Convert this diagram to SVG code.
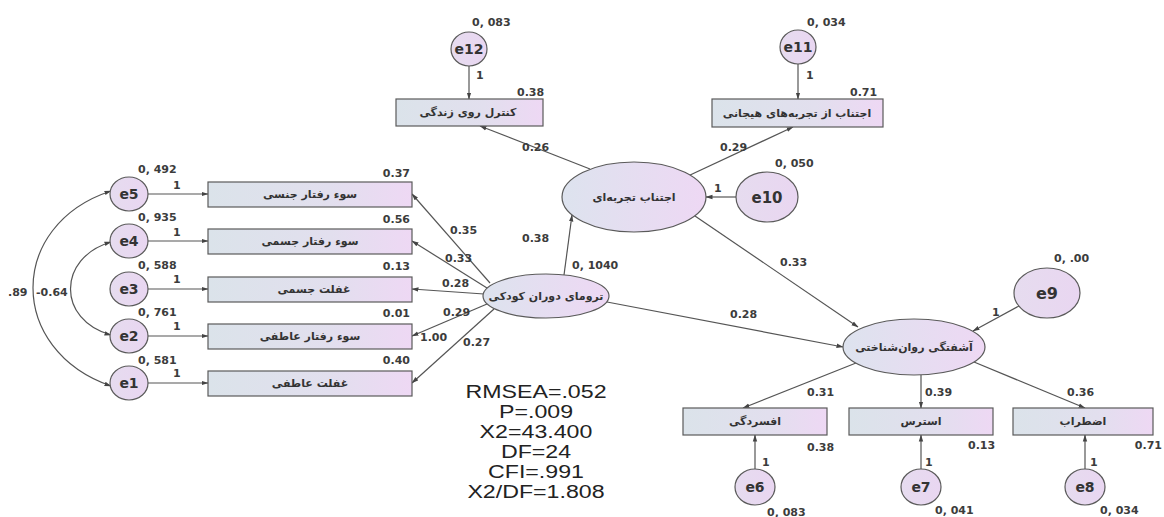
<svg xmlns="http://www.w3.org/2000/svg" width="1164" height="517" viewBox="0 0 1164 517">
<defs>
<linearGradient id="gBox" x1="0" y1="0" x2="1" y2="0">
<stop offset="0" stop-color="#dbe3ea"/><stop offset="0.6" stop-color="#e2dfee"/><stop offset="1" stop-color="#eed8f4"/>
</linearGradient>
<linearGradient id="gEll" x1="0" y1="0" x2="1" y2="0">
<stop offset="0" stop-color="#dde3ee"/><stop offset="1" stop-color="#eed8f4"/>
</linearGradient>
<linearGradient id="gErr" x1="0" y1="0" x2="1" y2="0">
<stop offset="0" stop-color="#e6dcef"/><stop offset="1" stop-color="#e9d6f1"/>
</linearGradient>
<marker id="arr" markerWidth="7" markerHeight="6" refX="6.5" refY="3" orient="auto-start-reverse" markerUnits="userSpaceOnUse">
<path d="M0,0.8 L7,3 L0,5.2 z" fill="#444"/>
</marker>
<style>
.box{fill:url(#gBox);stroke:#5a5a5a;stroke-width:1.2}
.lat{fill:url(#gEll);stroke:#5a5a5a;stroke-width:1.2}
.err{fill:url(#gErr);stroke:#5a5a5a;stroke-width:1.2}
.ln{stroke:#555;stroke-width:1.2;fill:none;marker-end:url(#arr)}
.cv{stroke:#555;stroke-width:1.2;fill:none;marker-end:url(#arr);marker-start:url(#arr)}
.lb{font-family:"DejaVu Sans",sans-serif;font-weight:bold;font-size:11px;fill:#3c3c3c}
.fa{font-family:"DejaVu Sans","Noto Sans",sans-serif;font-weight:bold;font-size:11px;fill:#333;text-anchor:middle}
.en{font-family:"DejaVu Sans",sans-serif;font-weight:bold;font-size:14px;fill:#333;text-anchor:middle}
.st{font-family:"Liberation Sans",Arial,sans-serif;font-size:19px;fill:#222;text-anchor:middle}
</style>
</defs>
<rect width="1164" height="517" fill="#fff"/>

<g id="connectors">
<line class="ln" x1="148" y1="194" x2="208" y2="194"/>
<line class="ln" x1="148" y1="241" x2="208" y2="241"/>
<line class="ln" x1="148" y1="289" x2="208" y2="289"/>
<line class="ln" x1="148" y1="336" x2="208" y2="336"/>
<line class="ln" x1="148" y1="383" x2="208" y2="383"/>
<path class="cv" d="M111 191 C 7 225, 7 350, 111 386"/>
<path class="cv" d="M111 242 C 57 258, 57 320, 111 335"/>
<line class="ln" x1="490" y1="283" x2="412" y2="194"/>
<line class="ln" x1="487" y1="288" x2="412" y2="241"/>
<line class="ln" x1="484" y1="294" x2="412" y2="289"/>
<line class="ln" x1="487" y1="304" x2="412" y2="336"/>
<line class="ln" x1="494" y1="309" x2="412" y2="383"/>
<line class="ln" x1="564" y1="275" x2="572" y2="215"/>
<line class="ln" x1="590" y1="169" x2="480" y2="126"/>
<line class="ln" x1="688" y1="176" x2="793" y2="127"/>
<line class="ln" x1="736" y1="197" x2="706" y2="197"/>
<line class="ln" x1="469" y1="66" x2="469" y2="99"/>
<line class="ln" x1="798" y1="64" x2="798" y2="99"/>
<line class="ln" x1="695" y1="216" x2="858" y2="327"/>
<line class="ln" x1="607" y1="302" x2="843" y2="347"/>
<line class="ln" x1="1019" y1="306" x2="973" y2="331"/>
<line class="ln" x1="856" y1="363" x2="743" y2="408"/>
<line class="ln" x1="921" y1="375" x2="921" y2="408"/>
<line class="ln" x1="974" y1="362" x2="1085" y2="408"/>
<line class="ln" x1="755" y1="469" x2="755" y2="435"/>
<line class="ln" x1="921" y1="469" x2="921" y2="435"/>
<line class="ln" x1="1085" y1="469" x2="1085" y2="435"/>
</g>

<g id="e5"><ellipse class="err" cx="129" cy="194" rx="19" ry="17"/><text class="en" x="129" y="199">e5</text></g>
<g id="e4"><ellipse class="err" cx="129" cy="241" rx="19" ry="17"/><text class="en" x="129" y="246">e4</text></g>
<g id="e3"><ellipse class="err" cx="129" cy="289" rx="19" ry="17"/><text class="en" x="129" y="294">e3</text></g>
<g id="e2"><ellipse class="err" cx="129" cy="336" rx="19" ry="17"/><text class="en" x="129" y="341">e2</text></g>
<g id="e1"><ellipse class="err" cx="129" cy="383" rx="19" ry="17"/><text class="en" x="129" y="388">e1</text></g>

<g id="b1"><rect class="box" x="208" y="182" width="204" height="25"/><text class="fa" x="310" y="198">سوء رفتار جنسی</text></g>
<g id="b2"><rect class="box" x="208" y="229" width="204" height="25"/><text class="fa" x="310" y="245">سوء رفتار جسمی</text></g>
<g id="b3"><rect class="box" x="208" y="277" width="204" height="25"/><text class="fa" x="314" y="293">غفلت جسمی</text></g>
<g id="b4"><rect class="box" x="208" y="324" width="204" height="25"/><text class="fa" x="310" y="340">سوء رفتار عاطفی</text></g>
<g id="b5"><rect class="box" x="208" y="371" width="204" height="25"/><text class="fa" x="310" y="387">غفلت عاطفی</text></g>

<g id="trauma"><ellipse class="lat" cx="546" cy="296" rx="63" ry="22"/><text class="fa" x="546" y="300">ترومای دوران کودکی</text></g>
<g id="avoid"><ellipse class="lat" cx="634" cy="197" rx="72" ry="35"/><text class="fa" x="634" y="201">اجتناب تجربه‌ای</text></g>
<g id="distress"><ellipse class="lat" cx="914" cy="347" rx="71" ry="28"/><text class="fa" x="914" y="351">آشفتگی روان‌شناختی</text></g>

<g id="b_control"><rect class="box" x="396" y="99" width="147" height="27"/><text class="fa" x="468" y="116">کنترل روی زندگی</text></g>
<g id="b_emo"><rect class="box" x="712" y="99" width="171" height="28"/><text class="fa" x="797" y="117">اجتناب از تجربه‌های هیجانی</text></g>
<g id="e12"><ellipse class="err" cx="469" cy="49" rx="18" ry="17"/><text class="en" x="469" y="54">e12</text></g>
<g id="e11"><ellipse class="err" cx="798" cy="47" rx="18" ry="17"/><text class="en" x="798" y="52">e11</text></g>
<g id="e10"><ellipse class="err" cx="767" cy="197" rx="31" ry="25"/><text class="en" x="767" y="203" style="font-size:15px">e10</text></g>
<g id="e9"><ellipse class="err" cx="1047" cy="293" rx="33" ry="25"/><text class="en" x="1047" y="299" style="font-size:16px">e9</text></g>

<g id="b_dep"><rect class="box" x="683" y="408" width="144" height="27"/><text class="fa" x="755" y="425">افسردگی</text></g>
<g id="b_str"><rect class="box" x="849" y="408" width="144" height="27"/><text class="fa" x="921" y="425">استرس</text></g>
<g id="b_anx"><rect class="box" x="1013" y="408" width="140" height="27"/><text class="fa" x="1083" y="425">اضطراب</text></g>
<g id="e6"><ellipse class="err" cx="755" cy="487" rx="20" ry="18"/><text class="en" x="755" y="492">e6</text></g>
<g id="e7"><ellipse class="err" cx="921" cy="487" rx="20" ry="18"/><text class="en" x="921" y="492">e7</text></g>
<g id="e8"><ellipse class="err" cx="1085" cy="487" rx="20" ry="18"/><text class="en" x="1085" y="492">e8</text></g>

<g id="labels" class="lb">
<text x="138" y="173">0, 492</text><text x="173" y="189">1</text>
<text x="138" y="221">0, 935</text><text x="173" y="236">1</text>
<text x="138" y="269">0, 588</text><text x="173" y="283">1</text>
<text x="138" y="316">0, 761</text><text x="173" y="330">1</text>
<text x="138" y="364">0, 581</text><text x="173" y="377">1</text>
<text x="8" y="296">.89</text><text x="36" y="296">-0.64</text>
<text x="410" y="177" text-anchor="end">0.37</text>
<text x="410" y="223" text-anchor="end">0.56</text>
<text x="410" y="270" text-anchor="end">0.13</text>
<text x="410" y="317" text-anchor="end">0.01</text>
<text x="410" y="364" text-anchor="end">0.40</text>
<text x="450" y="234">0.35</text>
<text x="445" y="262">0.33</text>
<text x="442" y="287">0.28</text>
<text x="443" y="316">0.29</text>
<text x="420" y="341">1.00</text>
<text x="463" y="346">0.27</text>
<text x="472" y="26">0, 083</text><text x="476" y="79">1</text>
<text x="517" y="96">0.38</text><text x="522" y="151">0.26</text>
<text x="807" y="26">0, 034</text><text x="806" y="79">1</text>
<text x="850" y="96">0.71</text><text x="720" y="151">0.29</text>
<text x="775" y="167">0, 050</text><text x="714" y="192">1</text>
<text x="522" y="242">0.38</text>
<text x="572" y="269">0, 1040</text>
<text x="780" y="266">0.33</text>
<text x="730" y="318">0.28</text>
<text x="1054" y="262">0, .00</text><text x="992" y="316">1</text>
<text x="807" y="396">0.31</text><text x="925" y="396">0.39</text><text x="1067" y="396">0.36</text>
<text x="807" y="451">0.38</text><text x="968" y="449">0.13</text><text x="1162" y="449" text-anchor="end">0.71</text>
<text x="762" y="466">1</text><text x="925" y="466">1</text><text x="1090" y="466">1</text>
<text x="767" y="516">0, 083</text><text x="935" y="514">0, 041</text><text x="1100" y="514">0, 034</text>
</g>

<g id="stats" transform="translate(536,0) scale(1.22,1)">
<text class="st" x="0" y="398">RMSEA=.052</text>
<text class="st" x="0" y="418">P=.009</text>
<text class="st" x="0" y="438">X2=43.400</text>
<text class="st" x="0" y="458">DF=24</text>
<text class="st" x="0" y="478">CFI=.991</text>
<text class="st" x="0" y="498">X2/DF=1.808</text>
</g>
</svg>
